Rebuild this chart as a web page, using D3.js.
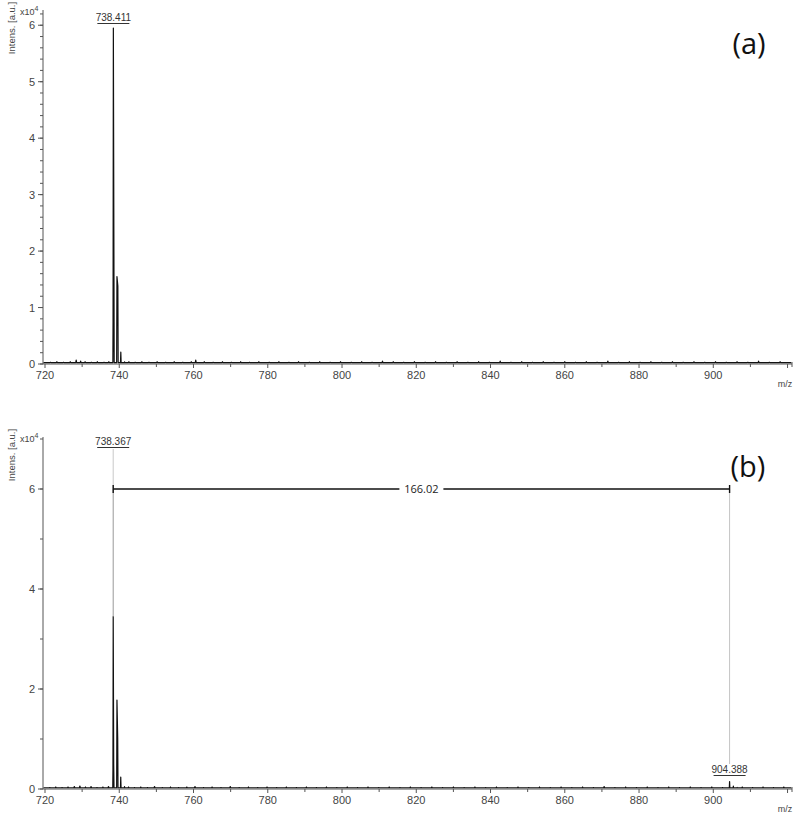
<!DOCTYPE html>
<html><head><meta charset="utf-8">
<script src="https://cdn.jsdelivr.net/npm/d3@7"></script>
<style>body{margin:0;background:#fff}svg{display:block}</style>
</head><body>
<svg id="c" width="800" height="819"></svg>
<script>
// ---- data (m/z, intensity in x10^4 a.u.) ----
const xTicksMajor = [720,740,760,780,800,820,840,860,880,900];
const yTicksA = [0,1,2,3,4,5,6];
const yTicksB = [0,2,4,6];

const peaksA = [[738.28,0],[738.33,0.75],[738.41,5.95],[738.55,2.17],[738.63,0],
                [739.30,0],[739.38,1.55],[739.62,1.38],[739.70,0],
                [740.33,0],[740.42,0.21],[740.50,0],
                [741.38,0],[741.42,0.04],[741.47,0]];
const peaksB = [[738.25,0],[738.30,0.38],[738.37,3.45],[738.50,0.50],[738.58,0],
                [739.30,0],[739.38,1.78],[739.58,1.02],[739.66,0],
                [740.33,0],[740.40,0.24],[740.48,0],
                [741.38,0],[741.42,0.05],[741.47,0],
                [904.32,0],[904.39,0.15],[904.46,0],
                [905.36,0],[905.40,0.06],[905.45,0],
                [906.38,0],[906.42,0.03],[906.46,0]];

const noiseA = [[721.5,0.03],[723.2,0.04],[725.0,0.03],[726.8,0.04],[728.4,0.07],[729.6,0.05],[730.8,0.04],[732.5,0.03],[734.1,0.04],[735.9,0.03],[737.2,0.04],[742.6,0.04],[744.3,0.03],[746.1,0.04],[748.0,0.03],[750.2,0.04],[752.5,0.03],[754.8,0.04],[757.1,0.03],[759.4,0.04],[760.6,0.07],[762.9,0.04],[765.3,0.03],[767.8,0.04],[770.2,0.03],[772.7,0.04],[775.1,0.03],[777.6,0.04],[780.4,0.03],[783.0,0.04],[785.7,0.03],[788.3,0.04],[791.2,0.03],[794.0,0.04],[796.8,0.03],[799.6,0.04],[802.5,0.03],[805.3,0.04],[808.1,0.03],[810.9,0.05],[813.8,0.04],[816.6,0.03],[819.5,0.04],[822.4,0.03],[825.2,0.04],[828.1,0.03],[831.0,0.04],[833.9,0.03],[836.8,0.04],[839.7,0.03],[842.6,0.05],[845.5,0.03],[848.4,0.04],[851.3,0.03],[854.2,0.04],[857.1,0.03],[860.0,0.04],[862.9,0.03],[865.8,0.04],[868.7,0.03],[871.6,0.05],[874.5,0.03],[877.4,0.04],[880.3,0.03],[883.2,0.04],[886.1,0.03],[889.0,0.04],[891.9,0.03],[894.8,0.04],[897.7,0.03],[900.6,0.04],[903.5,0.03],[906.4,0.04],[909.3,0.03],[912.2,0.05],[915.1,0.03],[918.0,0.04]];
const noiseB = [[721.3,0.03],[722.9,0.04],[724.6,0.03],[726.2,0.04],[727.9,0.05],[729.4,0.06],[730.9,0.04],[732.4,0.05],[734.0,0.03],[735.6,0.04],[737.1,0.05],[742.5,0.04],[744.1,0.03],[745.8,0.04],[747.6,0.03],[749.5,0.05],[751.6,0.03],[753.8,0.04],[756.0,0.03],[758.2,0.04],[760.4,0.05],[762.7,0.03],[765.0,0.04],[767.4,0.03],[769.9,0.05],[772.3,0.03],[774.8,0.04],[777.3,0.03],[779.8,0.04],[782.4,0.03],[785.0,0.04],[787.7,0.03],[790.4,0.04],[793.1,0.03],[795.8,0.04],[798.6,0.03],[801.4,0.04],[804.2,0.03],[807.0,0.04],[809.9,0.03],[812.7,0.04],[815.6,0.03],[818.4,0.04],[821.3,0.03],[824.2,0.04],[827.1,0.03],[830.0,0.04],[832.9,0.03],[835.8,0.04],[838.7,0.03],[841.6,0.04],[844.5,0.03],[847.4,0.04],[850.3,0.03],[853.2,0.04],[856.1,0.03],[859.0,0.04],[861.9,0.03],[864.8,0.04],[867.7,0.03],[870.6,0.05],[873.5,0.03],[876.4,0.04],[879.3,0.03],[882.2,0.04],[885.1,0.03],[888.0,0.04],[890.9,0.03],[893.8,0.04],[896.7,0.03],[899.6,0.04],[902.5,0.03],[907.8,0.04],[910.6,0.03],[913.4,0.04],[916.2,0.03],[919.0,0.04]];

const labelsA = [{mz:738.411, text:"738.411"}];
const labelsB = [{mz:738.367, text:"738.367", top:3.45}, {mz:904.388, text:"904.388", top:0.15}];
const deltaB = {from:738.367, to:904.388, y:6, text:"166.02"};

// ---- drawing ----
const svg = d3.select("#c");
const tickFont = "Liberation Sans, Arial, sans-serif";
const axisCol = "#555";

function panel(cfg){
  const g = svg.append("g");
  const x = d3.scaleLinear().domain([719.46, 921.2]).range([43, 792]);
  const y = d3.scaleLinear().domain([0, cfg.ymax]).range([cfg.y0, cfg.ytop]);

  // x axis
  g.append("line").attr("x1",x.range()[0]).attr("x2",x.range()[1])
    .attr("y1",cfg.y0).attr("y2",cfg.y0).attr("stroke",axisCol).attr("stroke-width",1);
  const minorX = d3.range(720, 921, 10);
  g.selectAll(null).data(minorX).join("line")
    .attr("x1",d=>x(d)).attr("x2",d=>x(d)).attr("y1",cfg.y0)
    .attr("y2",d=> d%20===0 ? cfg.y0+4 : cfg.y0+3).attr("stroke",axisCol);
  g.append("line").attr("x1",792).attr("x2",792).attr("y1",cfg.y0-2).attr("y2",cfg.y0+3).attr("stroke",axisCol);
  g.selectAll(null).data(xTicksMajor).join("text")
    .attr("x",d=>x(d)).attr("y",cfg.y0+15).attr("text-anchor","middle")
    .attr("font-family",tickFont).attr("font-size",11).attr("fill","#444").text(d=>d);
  g.append("text").attr("x",785).attr("y",cfg.y0+23).attr("text-anchor","middle")
    .attr("font-family",tickFont).attr("font-size",9).attr("fill","#444").text("m/z");

  // y axis
  g.append("line").attr("x1",43).attr("x2",43).attr("y1",cfg.y0).attr("y2",cfg.ytop)
    .attr("stroke",axisCol);
  const minorY = d3.range(0, cfg.ymax+1e-9, cfg.minor);
  g.selectAll(null).data(minorY).join("line")
    .attr("x1",40).attr("x2",43).attr("y1",d=>y(d)).attr("y2",d=>y(d)).attr("stroke",axisCol);
  g.selectAll(null).data(cfg.yt).join("line")
    .attr("x1",38).attr("x2",43).attr("y1",d=>y(d)).attr("y2",d=>y(d)).attr("stroke",axisCol);
  g.selectAll(null).data(cfg.yt).join("text")
    .attr("x",35).attr("y",d=>y(d)+4).attr("text-anchor","end")
    .attr("font-family",tickFont).attr("font-size",11).attr("fill","#444").text(d=>d);
  const sc = g.append("text").attr("x",20).attr("y",cfg.ytop+5)
    .attr("font-family",tickFont).attr("font-size",9).attr("fill","#444");
  sc.append("tspan").text("x10");
  sc.append("tspan").attr("dy",-4).attr("font-size",7).text("4");
  g.append("text").attr("transform",`translate(15,${cfg.ytop+18}) rotate(-90)`)
    .attr("text-anchor","middle").attr("font-family",tickFont).attr("font-size",9.5)
    .attr("fill","#444").text("Intens. [a.u.]");

  // spectrum
  const base = cfg.base;
  let pts = [];
  cfg.noise.forEach(([m,h])=>{ pts.push([m-0.12,base],[m,h],[m+0.12,base]); });
  cfg.peaks.forEach(p=>pts.push(p));
  pts.push([719.6,base],[921,base]);
  pts.sort((a,b)=>a[0]-b[0]);
  const line = d3.line().x(d=>x(d[0])).y(d=>y(Math.max(d[1],base)));
  g.append("path").attr("d",line(pts)).attr("fill","none")
    .attr("stroke","#111").attr("stroke-width",1.2).attr("stroke-linejoin","round");
  return {g,x,y};
}

// Panel (a)
const A = panel({y0:364, ytop:10, ymax:6.27, yt:yTicksA, minor:0.2, base:0.025,
  noise:noiseA, peaks:peaksA});
labelsA.forEach(l=>{
  const cx = A.x(l.mz);
  A.g.append("text").attr("x",cx).attr("y",21).attr("text-anchor","middle")
    .attr("font-family",tickFont).attr("font-size",10).attr("fill","#333").text(l.text);
  A.g.append("line").attr("x1",cx-16).attr("x2",cx+16).attr("y1",23.5).attr("y2",23.5)
    .attr("stroke","#333");
});
svg.append("text").attr("x",749).attr("y",54).attr("text-anchor","middle")
  .attr("font-family","Open Sans, Noto Sans, sans-serif").attr("font-size",29).attr("fill","#111").text("(a)");

// Panel (b)
const B = panel({y0:789, ytop:437, ymax:7.04, yt:yTicksB, minor:1, base:0.025,
  noise:noiseB, peaks:peaksB});
// gray annotation lines
B.g.append("line").attr("x1",B.x(labelsB[0].mz)).attr("x2",B.x(labelsB[0].mz))
  .attr("y1",449).attr("y2",B.y(deltaB.y)).attr("stroke","#c8c8c8");
B.g.append("line").attr("x1",B.x(labelsB[0].mz)).attr("x2",B.x(labelsB[0].mz))
  .attr("y1",B.y(deltaB.y)).attr("y2",B.y(labelsB[0].top)).attr("stroke","#999");
B.g.append("line").attr("x1",B.x(labelsB[1].mz)).attr("x2",B.x(labelsB[1].mz))
  .attr("y1",B.y(deltaB.y)).attr("y2",764).attr("stroke","#c4c4c4");
// labels
const labYs = [445, 773];
labelsB.forEach((l,i)=>{
  const cx = B.x(l.mz);
  B.g.append("text").attr("x",cx).attr("y",labYs[i]).attr("text-anchor","middle")
    .attr("font-family",tickFont).attr("font-size",10).attr("fill","#333").text(l.text);
  B.g.append("line").attr("x1",cx-16).attr("x2",cx+16).attr("y1",labYs[i]+2.5).attr("y2",labYs[i]+2.5)
    .attr("stroke","#333");
});
// delta bracket
const bx1 = B.x(deltaB.from), bx2 = B.x(deltaB.to), by = B.y(deltaB.y);
B.g.append("line").attr("x1",bx1).attr("x2",bx2).attr("y1",by).attr("y2",by)
  .attr("stroke","#111").attr("stroke-width",1.6);
[bx1,bx2].forEach(bx=>B.g.append("line").attr("x1",bx).attr("x2",bx)
  .attr("y1",by-4).attr("y2",by+4).attr("stroke","#111").attr("stroke-width",1.4));
const mid = (bx1+bx2)/2;
B.g.append("rect").attr("x",mid-22).attr("y",by-8).attr("width",44).attr("height",16).attr("fill","#fff");
B.g.append("text").attr("x",mid).attr("y",by+4).attr("text-anchor","middle")
  .attr("font-family","Open Sans, Noto Sans, sans-serif").attr("font-size",11).attr("fill","#222").text(deltaB.text);
svg.append("text").attr("x",748).attr("y",477).attr("text-anchor","middle")
  .attr("font-family","Open Sans, Noto Sans, sans-serif").attr("font-size",29).attr("fill","#111").text("(b)");
</script>
</body></html>
